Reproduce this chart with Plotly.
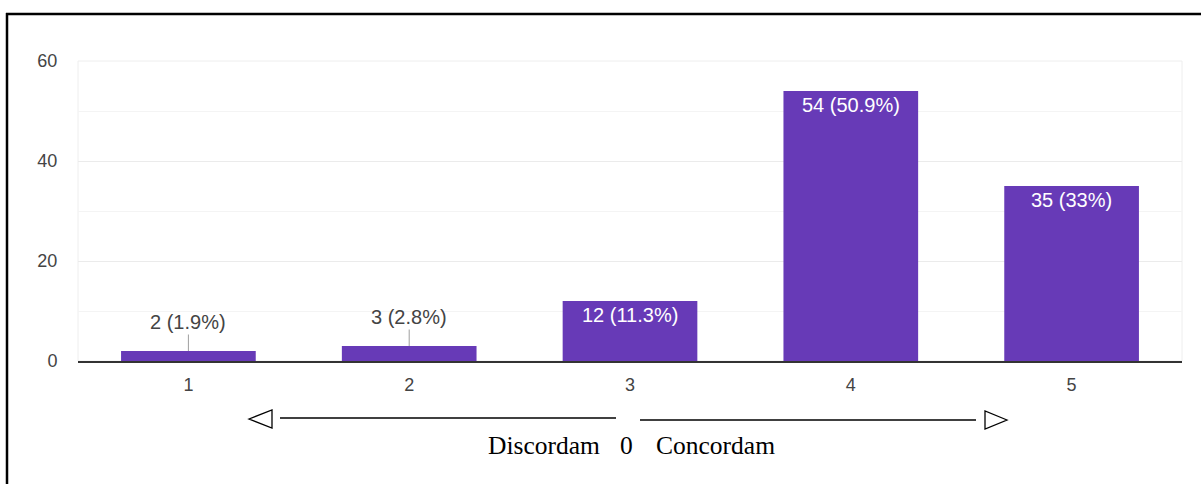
import plotly.graph_objects as go

# Survey responses on a 1-5 agreement scale
categories = ["1", "2", "3", "4", "5"]
counts = [2, 3, 12, 54, 35]
y_ticks = [0, 20, 40, 60]

total = sum(counts)


def pct_label(v):
    p = round(100 * v / total, 1)
    s = f"{p:.1f}".rstrip("0").rstrip(".")
    return f"{v} ({s}%)"


labels = [pct_label(v) for v in counts]

W, H = 1201, 484
L, R, T, B = 78, 19, 61, 123
PW, PH = W - L - R, H - T - B

BAR = "#673ab7"
TXT = "#444444"
LABEL_FONT = "Liberation Sans, Arial, sans-serif"
SERIF = "Liberation Serif, Times New Roman, serif"


def px(x):
    return (x - L) / PW


def py(y):
    return (H - B - y) / PH


fig = go.Figure(
    go.Bar(
        x=categories,
        y=counts,
        marker=dict(color=BAR, line=dict(width=0)),
        hoverinfo="skip",
    )
)

annotations = []
for i, (v, t) in enumerate(zip(counts, labels)):
    if v >= 10:
        annotations.append(dict(
            x=i, y=v, xref="x", yref="y", text=t, showarrow=False,
            yanchor="middle", yshift=-14,
            font=dict(family=LABEL_FONT, size=20, color="white"),
        ))
    else:
        annotations.append(dict(
            x=i, y=v, xref="x", yref="y", text=t, showarrow=True,
            ax=0, ay=-29, arrowhead=0, arrowwidth=1, arrowcolor="#9e9e9e",
            standoff=0, startstandoff=0,
            font=dict(family=LABEL_FONT, size=20, color=TXT),
        ))

# scale caption below the axis
cap_y = py(446)
annotations += [
    dict(xref="paper", yref="paper", x=px(602), y=cap_y, text="Discordam",
         xanchor="right", yanchor="middle", showarrow=False,
         font=dict(family=SERIF, size=25.5, color="black")),
    dict(xref="paper", yref="paper", x=px(626), y=cap_y, text="0",
         xanchor="center", yanchor="middle", showarrow=False,
         font=dict(family=SERIF, size=25.5, color="black")),
    dict(xref="paper", yref="paper", x=px(654), y=cap_y, text="Concordam",
         xanchor="left", yanchor="middle", showarrow=False,
         font=dict(family=SERIF, size=25.5, color="black")),
]


def path(points, close=True):
    s = "M " + " L ".join(f"{px(a):.5f},{py(b):.5f}" for a, b in points)
    return s + (" Z" if close else "")


shapes = [
    # faint plot frame
    dict(type="rect", xref="paper", yref="paper", x0=0, x1=1, y0=0, y1=1,
         line=dict(color="#eeeeee", width=1), layer="below"),
    # arrow lines and hollow heads
    dict(type="path", xref="paper", yref="paper",
         path=path([(280, 418), (616, 418)], close=False),
         line=dict(color="black", width=1.5)),
    dict(type="path", xref="paper", yref="paper",
         path=path([(640, 420), (976, 420)], close=False),
         line=dict(color="black", width=1.5)),
    dict(type="path", xref="paper", yref="paper",
         path=path([(249, 419), (272, 410), (272, 428)]),
         line=dict(color="black", width=1.3)),
    dict(type="path", xref="paper", yref="paper",
         path=path([(1007, 420), (985, 411), (985, 429)]),
         line=dict(color="black", width=1.3)),
    # outer frame (top and left edges)
    dict(type="line", xref="paper", yref="paper",
         x0=px(6), x1=px(1205), y0=py(14), y1=py(14),
         line=dict(color="black", width=2.5)),
    dict(type="line", xref="paper", yref="paper",
         x0=px(7), x1=px(7), y0=py(13), y1=py(490),
         line=dict(color="black", width=2.5)),
]

fig.update_layout(
    width=W, height=H,
    margin=dict(l=L, r=R, t=T, b=B),
    paper_bgcolor="white",
    plot_bgcolor="white",
    bargap=0.39,
    showlegend=False,
    annotations=annotations,
    shapes=shapes,
    font=dict(family=LABEL_FONT, color=TXT),
)

fig.update_xaxes(
    type="category",
    range=[-0.5, 4.5],
    showgrid=False,
    showline=True, linecolor="#333333", linewidth=2,
    ticks="outside", ticklen=6, tickcolor="rgba(0,0,0,0)",
    tickfont=dict(family=LABEL_FONT, size=18, color=TXT),
    fixedrange=True,
)

fig.update_yaxes(
    range=[0, 60],
    tickvals=y_ticks,
    showgrid=True, gridcolor="#ebebeb", gridwidth=1,
    minor=dict(dtick=10, showgrid=True, gridcolor="#f4f4f4", gridwidth=1),
    zeroline=False,
    showline=False,
    ticks="outside", ticklen=16, tickcolor="rgba(0,0,0,0)",
    tickfont=dict(family=LABEL_FONT, size=18, color=TXT),
    fixedrange=True,
)

fig.write_html("out.html")
